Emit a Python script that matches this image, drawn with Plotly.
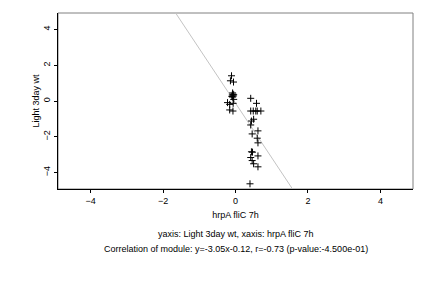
import plotly.graph_objects as go
import numpy as np

x_vals = [-0.11, -0.14, -0.055, -0.08, -0.07, -0.09, -0.06, -0.08, -0.05, -0.1,
          -0.22, -0.16, -0.065, -0.05, -0.16, -0.07,
          0.42, 0.58, 0.42, 0.49, 0.56, 0.60, 0.70,
          0.44, 0.50, 0.42, 0.62, 0.46, 0.60, 0.62,
          0.44, 0.47, 0.62, 0.42, 0.46, 0.50, 0.62, 0.40]
y_vals = [1.41, 1.13, 1.06, 0.45, 0.38, 0.33, 0.28, 0.22, 0.35, 0.25,
          -0.09, -0.19, -0.13, 0.09, -0.50, -0.56,
          0.15, -0.13, -0.56, -0.56, -0.56, -0.56, -0.56,
          -1.12, -1.02, -1.34, -1.67, -1.84, -2.08, -2.34,
          -2.84, -2.86, -3.07, -3.16, -3.33, -3.51, -3.68, -4.63]
slope = -3.05
intercept = -0.12
x_range = [-4.9, 4.9]
y_range = [-4.92, 4.92]
tick_vals = [-4, -2, 0, 2, 4]

font = dict(family="Liberation Sans, Arial, sans-serif", size=9, color="black")

line_x = np.linspace(x_range[0], x_range[1], 200)
line_y = slope * line_x + intercept

fig = go.Figure()
fig.add_trace(go.Scatter(x=line_x, y=line_y, mode="lines",
                         line=dict(color="#c4c4c4", width=1), hoverinfo="skip"))
fig.add_trace(go.Scatter(x=x_vals, y=y_vals, mode="markers",
                         marker=dict(symbol="cross-thin", size=5, color="black",
                                     line=dict(color="black", width=1))))

fig.update_layout(
    width=432, height=288, showlegend=False,
    margin=dict(l=58, r=19, t=13, b=99),
    paper_bgcolor="white", plot_bgcolor="white", font=font,
    xaxis=dict(range=x_range, tickvals=tick_vals, ticks="outside", ticklen=3,
               tickcolor="black", showgrid=False, zeroline=False,
               showline=True, linecolor="black", linewidth=1,
               title=dict(text="hrpA fliC 7h", standoff=6, font=font),
               tickfont=font),
    yaxis=dict(range=y_range, tickvals=tick_vals, ticks="outside", ticklen=3,
               tickcolor="black", showgrid=False, zeroline=False, tickangle=-90,
               showline=True, linecolor="black", linewidth=1,
               title=dict(text="Light 3day wt", standoff=1, font=font),
               tickfont=font),
    shapes=[dict(type="rect", xref="paper", yref="paper", x0=0, x1=1, y0=0, y1=1,
                 line=dict(color="#808080", width=1), layer="below")],
    annotations=[
        dict(text="yaxis: Light 3day wt, xaxis: hrpA fliC 7h", xref="paper", yref="paper",
             x=0.5, y=-0.255, showarrow=False, font=font, yanchor="middle"),
        dict(text="Correlation of module: y=-3.05x-0.12, r=-0.73 (p-value:-4.500e-01)",
             xref="paper", yref="paper", x=0.5, y=-0.34, showarrow=False, font=font,
             yanchor="middle"),
    ],
)
fig.write_html("out.html")
